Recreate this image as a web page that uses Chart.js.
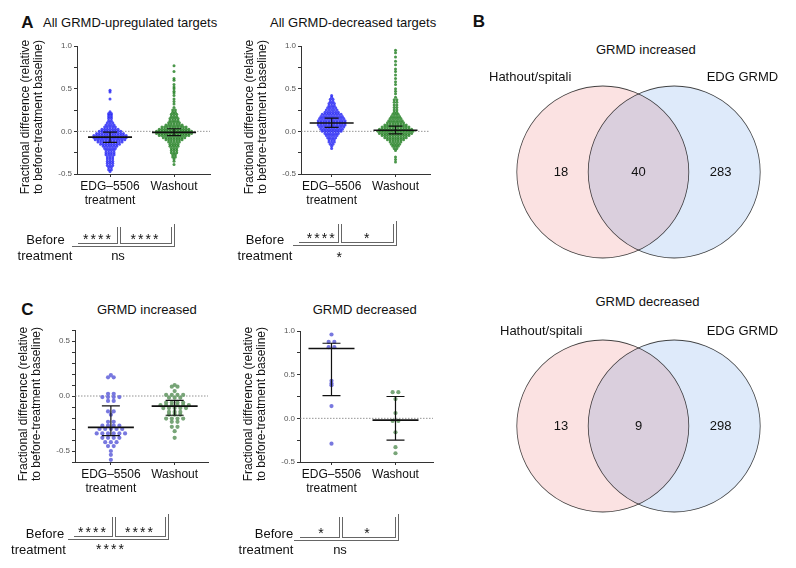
<!DOCTYPE html>
<html>
<head>
<meta charset="utf-8">
<script src="https://cdn.jsdelivr.net/npm/chart.js@4.4.1/dist/chart.umd.min.js"></script>
<style>
body{margin:0;background:#fff;}
#fig{position:relative;width:796px;height:568px;overflow:hidden;font-family:"Liberation Sans",Arial,sans-serif;color:#111;}
#fig canvas{position:absolute;}
.t{position:absolute;white-space:nowrap;line-height:1;font-size:13px;}
.yt{position:absolute;white-space:nowrap;font-size:12px;line-height:12.5px;text-align:center;transform:translate(-50%,-50%) rotate(-90deg);}
.ln{position:absolute;background:#666;}
</style>
</head>
<body>
<div id="fig">
<canvas id="aUp" width="206" height="175" style="left:8px;top:36px"></canvas>
<canvas id="aDown" width="202" height="175" style="left:232px;top:36px"></canvas>
<canvas id="cInc" width="206" height="179" style="left:5.5px;top:320px"></canvas>
<canvas id="cDec" width="206" height="178" style="left:231px;top:321px"></canvas>
<canvas id="bInc" width="306" height="184" style="left:490px;top:80px"></canvas>
<canvas id="bDec" width="306" height="184" style="left:490px;top:333.5px"></canvas>
</div>
<script>
// ---- data ----
const groupLabels = [['EDG\u20135506', 'treatment'], 'Washout'];
const yTitle = ['Fractional difference (relative', 'to before-treatment baseline)'];

// panel A: beeswarm rows (level, number of genes at that level)
const upEdgLevels = [0.48, 0.46, 0.38, 0.23, 0.21, 0.19, 0.17, 0.15, 0.125, 0.10, 0.075, 0.05, 0.025, 0.0, -0.025, -0.05, -0.075, -0.10, -0.125, -0.15, -0.175, -0.20, -0.225, -0.25, -0.275, -0.30, -0.325, -0.35, -0.375, -0.40, -0.425, -0.45, -0.47];
const upEdgCounts = [1, 1, 1, 1, 2, 2, 2, 2, 2, 3, 4, 5, 7, 9, 11, 13, 13, 12, 10, 8, 6, 5, 4, 4, 4, 3, 3, 3, 3, 3, 2, 2, 1];
const upWashLevels = [0.77, 0.70, 0.62, 0.60, 0.55, 0.52, 0.50, 0.47, 0.45, 0.42, 0.38, 0.35, 0.32, 0.28, 0.25, 0.225, 0.20, 0.175, 0.15, 0.125, 0.10, 0.075, 0.05, 0.025, 0.0, -0.025, -0.05, -0.075, -0.10, -0.125, -0.15, -0.175, -0.20, -0.225, -0.25, -0.275, -0.30, -0.325, -0.35, -0.39];
const upWashCounts = [1, 1, 1, 1, 1, 1, 1, 1, 1, 1, 1, 1, 1, 1, 2, 2, 3, 3, 4, 4, 5, 7, 10, 12, 14, 14, 12, 9, 7, 5, 4, 4, 3, 3, 3, 2, 2, 1, 1, 1];
const downEdgLevels = [0.42, 0.40, 0.375, 0.35, 0.325, 0.30, 0.275, 0.25, 0.225, 0.20, 0.175, 0.15, 0.125, 0.10, 0.075, 0.05, 0.025, 0.0, -0.025, -0.05, -0.075, -0.10, -0.125, -0.15, -0.175, -0.20];
const downEdgCounts = [1, 1, 2, 2, 3, 3, 4, 5, 6, 8, 9, 10, 11, 11, 11, 10, 9, 8, 6, 5, 4, 3, 3, 2, 1, 1];
const downWashLevels = [0.95, 0.92, 0.87, 0.82, 0.78, 0.73, 0.70, 0.66, 0.62, 0.58, 0.55, 0.50, 0.47, 0.44, 0.40, 0.37, 0.34, 0.31, 0.28, 0.25, 0.225, 0.20, 0.175, 0.15, 0.125, 0.10, 0.075, 0.05, 0.025, 0.0, -0.025, -0.05, -0.075, -0.10, -0.125, -0.15, -0.175, -0.20, -0.225, -0.30, -0.33, -0.36];
const downWashCounts = [1, 1, 1, 1, 1, 1, 1, 1, 1, 1, 1, 1, 1, 1, 1, 2, 2, 2, 2, 2, 2, 3, 4, 5, 6, 7, 9, 11, 13, 14, 13, 11, 9, 7, 5, 4, 3, 2, 1, 1, 1, 1];
const upMedian = [-0.068, -0.012], upQ1 = [-0.13, -0.05], upQ3 = [-0.01, 0.03];
const downMedian = [0.097, 0.012], downQ1 = [0.047, -0.03], downQ3 = [0.155, 0.06];

// panel C: individual genes
const incEdg = [0.19, 0.17, 0.17, 0.02, 0.02, -0.01, -0.01, -0.01, -0.01, -0.045, -0.045, -0.14, -0.14, -0.17, -0.235, -0.235,
  -0.27, -0.27, -0.27, -0.27, -0.30, -0.30, -0.30, -0.30, -0.30, -0.34, -0.34, -0.34, -0.34, -0.34, -0.34,
  -0.38, -0.38, -0.38, -0.38, -0.42, -0.42, -0.42, -0.455, -0.455, -0.50, -0.535, -0.58];
const incWash = [0.10, 0.085, 0.085, 0.045, 0.01, 0.01, 0.01, 0.01, -0.015, -0.015, -0.015, -0.06, -0.06, -0.06, -0.06,
  -0.083, -0.083, -0.083, -0.083, -0.083, -0.083, -0.11, -0.11, -0.11, -0.11, -0.11, -0.145, -0.145, -0.145,
  -0.17, -0.17, -0.17, -0.205, -0.205, -0.205, -0.205, -0.235, -0.235, -0.28, -0.28, -0.32, -0.38];
const decEdg = [0.96, 0.875, 0.875, 0.815, 0.815, 0.43, 0.40, 0.38, 0.14, -0.29];
const decWash = [0.30, 0.30, 0.22, 0.06, -0.03, -0.03, -0.16, -0.33, -0.40];
const incMedian = [-0.285, -0.092], incQ1 = [-0.36, -0.175], incQ3 = [-0.09, -0.04];
const decMedian = [0.80, -0.02], decQ1 = [0.26, -0.25], decQ3 = [0.86, 0.25];

// panel B
const vennSets = ['Hathout/spitali', 'EDG GRMD'];
const vennIncreased = [18, 40, 283];
const vennDecreased = [13, 9, 298];

// ---- drawing ----
const family = '"Liberation Sans", Arial, sans-serif';
const fig = document.getElementById('fig');

function expandRows(levels, counts) {
    let vals = [];
    for (let i = 0; i < levels.length; i++) {
        for (let k = 0; k < counts[i]; k++) vals.push(levels[i]);
    }
    return vals;
}

// spread genes sharing a level side by side around the group centre
function swarm(vals, center, step) {
    const rows = {};
    vals.forEach(v => {
        const key = v.toFixed(3);
        if (!rows[key]) rows[key] = [];
        rows[key].push(v);
    });
    let pts = [];
    Object.values(rows).forEach(r => {
        r.forEach((v, k) => pts.push({x: center + (k - (r.length - 1) / 2) * step, y: v}));
    });
    return pts;
}

function statsPlugin(median, q1, q3, halfW, capW) {
    return {
        id: 'stats',
        beforeDatasetsDraw(chart) {
            const {ctx, chartArea, scales} = chart;
            const y0 = scales.y.getPixelForValue(0);
            ctx.save();
            ctx.strokeStyle = '#777';
            ctx.lineWidth = 0.8;
            ctx.setLineDash([1.5, 1.5]);
            ctx.beginPath();
            ctx.moveTo(chartArea.left, y0);
            ctx.lineTo(chartArea.right, y0);
            ctx.stroke();
            ctx.restore();
        },
        afterDatasetsDraw(chart) {
            const {ctx, scales} = chart;
            ctx.save();
            ctx.strokeStyle = '#111';
            for (let i = 0; i < median.length; i++) {
                const cx = scales.x.getPixelForValue(i + 1);
                const ym = scales.y.getPixelForValue(median[i]);
                const ya = scales.y.getPixelForValue(q1[i]);
                const yb = scales.y.getPixelForValue(q3[i]);
                ctx.lineWidth = 1.6;
                ctx.beginPath();
                ctx.moveTo(cx - halfW, ym); ctx.lineTo(cx + halfW, ym);
                ctx.stroke();
                ctx.lineWidth = 1.2;
                ctx.beginPath();
                ctx.moveTo(cx, ya); ctx.lineTo(cx, yb);
                ctx.moveTo(cx - capW, ya); ctx.lineTo(cx + capW, ya);
                ctx.moveTo(cx - capW, yb); ctx.lineTo(cx + capW, yb);
                ctx.stroke();
            }
            ctx.restore();
        }
    };
}

function tickText(v) {
    const r = Math.round(v * 10) / 10;
    if (Math.abs(v * 2 - Math.round(v * 2)) > 1e-6) return '';
    return r === 0 ? '0.0' : r.toFixed(1);
}

function swarmChart(id, groups, xMin, xMax, yMin, yMax, yStep, colors, radius, stats) {
    const datasets = groups.map((pts, i) => ({
        data: pts,
        backgroundColor: colors[i],
        borderWidth: 0,
        pointRadius: radius,
        pointHoverRadius: radius
    }));
    new Chart(document.getElementById(id), {
        type: 'scatter',
        data: {datasets: datasets},
        options: {
            responsive: false,
            animation: false,
            layout: {autoPadding: false, padding: {top: 10, right: 4, left: 0, bottom: 0}},
            plugins: {legend: {display: false}, tooltip: {enabled: false}},
            scales: {
                x: {
                    type: 'linear', min: xMin, max: xMax,
                    afterBuildTicks: s => { s.ticks = [{value: 1}, {value: 2}]; },
                    afterFit: s => { s.height = 37; },
                    ticks: {callback: v => groupLabels[v - 1], font: {family: family, size: 12, lineHeight: 1.2}, color: '#111', padding: 2, maxRotation: 0, autoSkip: false},
                    grid: {drawOnChartArea: false, tickLength: 3, tickColor: '#333'},
                    border: {color: '#333', width: 1}
                },
                y: {
                    min: yMin, max: yMax,
                    afterFit: s => { s.width = 69; },
                    ticks: {stepSize: yStep, callback: tickText, font: {family: family, size: 8}, color: '#555', padding: 2, autoSkip: false},
                    grid: {drawOnChartArea: false, tickLength: 3, tickColor: '#333'},
                    border: {color: '#333', width: 1}
                }
            }
        },
        plugins: [statsPlugin(stats[0], stats[1], stats[2], stats[3], stats[4])]
    });
}

const blueA = 'rgba(35,35,245,0.8)', greenA = 'rgba(30,125,30,0.8)';
const blueC = 'rgba(105,105,220,0.9)', greenC = 'rgba(105,155,105,0.9)';

swarmChart('aUp', [swarm(expandRows(upEdgLevels, upEdgCounts), 1, 0.042), swarm(expandRows(upWashLevels, upWashCounts), 2, 0.042)],
    0.484, 2.562, -0.5, 1.0, 0.25, [blueA, greenA], 1.5, [upMedian, upQ1, upQ3, 22, 7]);
swarmChart('aDown', [swarm(expandRows(downEdgLevels, downEdgCounts), 1, 0.042), swarm(expandRows(downWashLevels, downWashCounts), 2, 0.042)],
    0.52, 2.54, -0.5, 1.0, 0.25, [blueA, greenA], 1.5, [downMedian, downQ1, downQ3, 22, 7]);
swarmChart('cInc', [swarm(incEdg, 1, 0.089), swarm(incWash, 2, 0.089)],
    0.4375, 2.523, -0.6, 0.6, 0.1, [blueC, greenC], 2.1, [incMedian, incQ1, incQ3, 23, 9]);
swarmChart('cDec', [swarm(decEdg, 1, 0.089), swarm(decWash, 2, 0.089)],
    0.508, 2.586, -0.5, 1.0, 0.25, [blueC, greenC], 2.1, [decMedian, decQ1, decQ3, 23, 9]);

// Venn diagrams
const vennFill = ['rgb(251,226,226)', 'rgb(222,234,250)'];
const multiply = {
    id: 'multiply',
    beforeDatasetsDraw(chart) { chart.ctx.save(); chart.ctx.globalCompositeOperation = 'multiply'; },
    afterDatasetsDraw(chart) { chart.ctx.restore(); }
};
function countsPlugin(counts) {
    return {
        id: 'counts',
        afterDatasetsDraw(chart) {
            const {ctx, scales} = chart;
            const xs = [-0.585, 0.5, 1.65];
            ctx.save();
            ctx.fillStyle = '#111';
            ctx.font = '13px ' + family;
            ctx.textAlign = 'center';
            ctx.textBaseline = 'middle';
            counts.forEach((c, i) => ctx.fillText(String(c), scales.x.getPixelForValue(xs[i]), scales.y.getPixelForValue(0)));
            ctx.restore();
        }
    };
}
function vennChart(id, counts) {
    new Chart(document.getElementById(id), {
        type: 'bubble',
        data: {
            datasets: vennSets.map((name, i) => ({
                label: name,
                data: [{x: i, y: 0}],
                radius: 86,
                hoverRadius: 0,
                backgroundColor: vennFill[i],
                borderColor: '#444',
                borderWidth: 0.8,
                clip: false
            }))
        },
        options: {
            responsive: false,
            animation: false,
            layout: {autoPadding: false, padding: 0},
            plugins: {legend: {display: false}, tooltip: {enabled: false}},
            scales: {x: {display: false, min: -1.58, max: 2.706}, y: {display: false, min: -1, max: 1}}
        },
        plugins: [multiply, countsPlugin(counts)]
    });
}
vennChart('bInc', vennIncreased);
vennChart('bDec', vennDecreased);

// ---- text and significance brackets ----
function text(str, x, y, how, style) {
    const d = document.createElement('div');
    d.className = 't';
    d.textContent = str;
    d.style.left = x + 'px';
    d.style.top = y + 'px';
    d.style.transform = how === 'left' ? 'translate(0,-50%)' : 'translate(-50%,-50%)';
    if (style) Object.assign(d.style, style);
    fig.appendChild(d);
}
function yLabel(x, y) {
    const d = document.createElement('div');
    d.className = 'yt';
    d.innerHTML = yTitle.join('<br>');
    d.style.left = x + 'px';
    d.style.top = y + 'px';
    fig.appendChild(d);
}
function line(x, y, w, h) {
    const d = document.createElement('div');
    d.className = 'ln';
    d.style.left = x + 'px';
    d.style.top = y + 'px';
    d.style.width = w + 'px';
    d.style.height = h + 'px';
    fig.appendChild(d);
}
function bracket(x0, xm, x1, y, yTop) {
    line(x0, y, xm - x0, 1);
    line(xm, yTop, 1, y - yTop + 1);
    line(xm + 3, yTop, 1, y - yTop + 1);
    line(xm + 3, y, x1 - xm - 3, 1);
    line(x1, yTop, 1, y - yTop + 1);
    line(x0 - 6, y + 3, x1 - x0 + 10, 1);
    line(x1 + 3, yTop - 3, 1, y - yTop + 7);
}
const bold = {fontWeight: 'bold', fontSize: '17px'};
const stars = {letterSpacing: '2px', fontSize: '14px'};

text('A', 27.5, 22, 'c', bold);
text('All GRMD-upregulated targets', 43, 22, 'left');
text('All GRMD-decreased targets', 270, 22, 'left');
text('B', 479, 21, 'c', bold);
text('C', 27.5, 309, 'c', bold);
text('GRMD increased', 97, 309, 'left');
text('GRMD decreased', 312.7, 309, 'left');

yLabel(31, 117);
yLabel(255, 117);
yLabel(29, 404);
yLabel(254, 404);

text('GRMD increased', 645.8, 49);
text(vennSets[0], 489, 76, 'left');
text(vennSets[1], 706.7, 76, 'left');
text('GRMD decreased', 647.5, 301.3);
text(vennSets[0], 500, 330, 'left');
text(vennSets[1], 706.7, 330, 'left');

// A left
text('Before', 45.5, 239); text('treatment', 45, 255);
bracket(78, 117, 171, 242.5, 227);
text('****', 98, 238.5, 'c', stars); text('****', 145.5, 238.5, 'c', stars); text('ns', 118, 255);
// A right
text('Before', 265, 239); text('treatment', 265, 255);
bracket(299, 338, 393, 242, 224);
text('****', 321.7, 238, 'c', stars); text('*', 366.7, 238, 'c', {fontSize: '14px'}); text('*', 339.3, 257, 'c', {fontSize: '14px'});
// C left
text('Before', 45, 533); text('treatment', 38.5, 549);
bracket(74, 111.7, 165, 535.5, 517);
text('****', 93, 532, 'c', stars); text('****', 140, 532, 'c', stars); text('****', 111, 548.5, 'c', stars);
// C right
text('Before', 274, 533); text('treatment', 266, 549);
bracket(300, 339.3, 395, 536.5, 517);
text('*', 321, 532.5, 'c', {fontSize: '14px'}); text('*', 367, 532.5, 'c', {fontSize: '14px'}); text('ns', 340, 549.3);
</script>
</body>
</html>
